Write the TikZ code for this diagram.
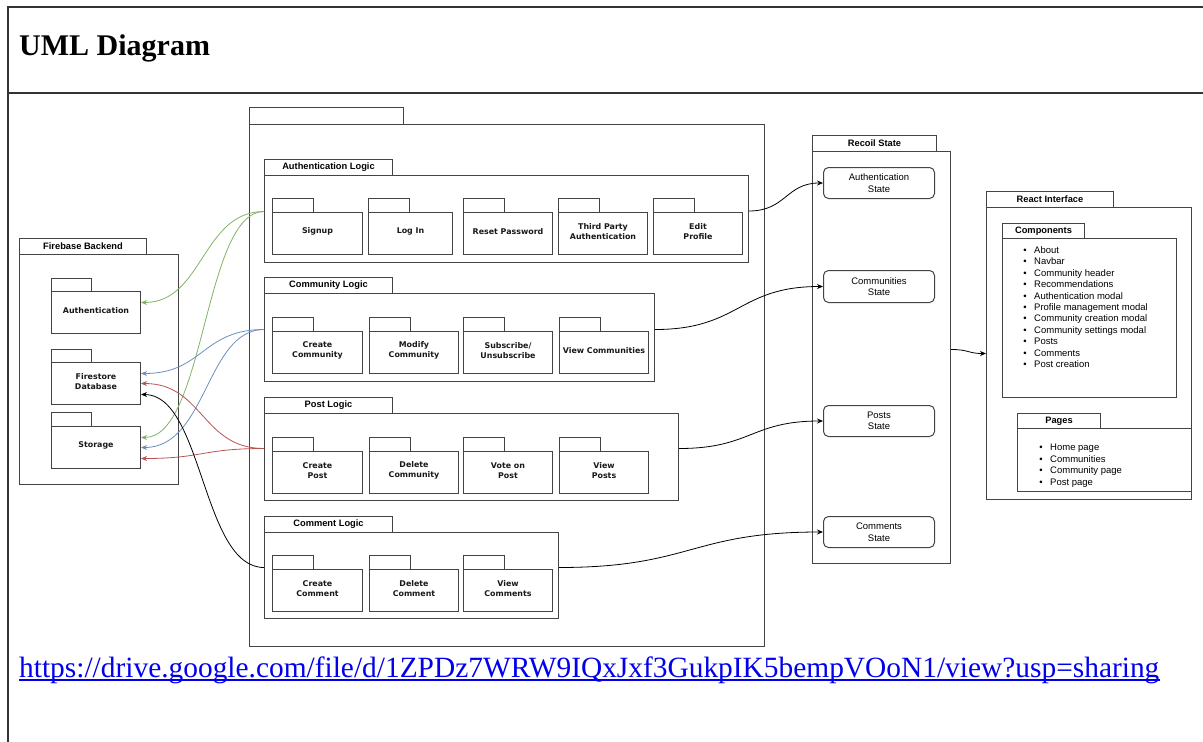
\documentclass[tikz,border=0pt]{standalone}
\usepackage{fontspec}
\setmainfont{Liberation Serif}
\newfontfamily\arialf{Liberation Sans}
\newfontfamily\verdf{DejaVu Sans}
\usetikzlibrary{arrows.meta}
\definecolor{edgegreen}{HTML}{82B366}
\definecolor{edgeblue}{HTML}{6C8EBF}
\definecolor{edgered}{HTML}{B85450}
\definecolor{linkblue}{HTML}{0000EE}
\definecolor{pkgline}{HTML}{444444}

% #1 name, #2 x, #3 tab top, #4 tab w, #5 tab h, #6 body w, #7 body h, #8 tab text
\newcommand{\umlgroup}[8]{%
  \node[tabbox, minimum width=#4, minimum height=#5, anchor=north west] (#1-tab) at (#2,#3) {#8};
  \node[bodybox, minimum width=#6, minimum height=#7, anchor=north west] (#1) at (#2,#3+#5) {};
}
% sub package: #1 name, #2 x, #3 tab top, #4 body w, #5 label
\newcommand{\umlsub}[5]{%
  \node[tabbox, minimum width=41, minimum height=14, anchor=north west] (#1-tab) at (#2,#3) {};
  \node[bodybox, minimum width=#4, minimum height=42, anchor=north west] (#1) at (#2,#3+14) {};
  \node[pkglabel] (#1-label) at ([yshift=2pt]#1.center) {#5};
}

\tikzset{
  tabbox/.style={draw=pkgline, line width=1pt, fill=white, inner sep=0pt,
    font=\arialf\bfseries\fontsize{9.3}{11}\selectfont},
  bodybox/.style={draw=pkgline, line width=1pt, fill=white, inner sep=0pt},
  pkglabel/.style={inner sep=0pt, align=center, text=black!90,
    font=\verdf\bfseries\fontsize{7.9}{10}\selectfont},
  statebox/.style={draw=pkgline, line width=1pt, fill=white, rounded corners=5pt,
    inner sep=0pt, minimum width=111, minimum height=31, align=center,
    font=\arialf\fontsize{9.5}{11.5}\selectfont, anchor=north west},
  listitem/.style={inner sep=0pt, anchor=base west,
    font=\arialf\fontsize{9.5}{11.4}\selectfont},
  conn/.style={line width=0.8pt, color=#1, -{Stealth[length=6pt,width=5pt]}},
  conn/.default=black,
  frameline/.style={line width=1.2pt, black!80}
}

\begin{document}
\begin{tikzpicture}[x=1pt,y=-1pt]
\useasboundingbox (0,0) rectangle (1203,742);

% page frame
\draw[frameline] (8,742) -- (8,7) -- (1203,7);
\draw[frameline] (8,93) -- (1203,93);
\node[anchor=base west, inner sep=0pt, font=\bfseries\fontsize{30}{36}\selectfont] (title) at (19,55) {UML Diagram};
\node[anchor=base west, inner sep=0pt, text=linkblue, font=\fontsize{29.4}{35}\selectfont] (link) at (19,677) {https://drive.google.com/file/d/1ZPDz7WRW9IQxJxf3GukpIK5bempVOoN1/view?usp=sharing};
\draw[linkblue, line width=1.4pt] ([yshift=-3pt]link.base west) -- ([yshift=-3pt]link.base east);

% main logic package
\umlgroup{main}{249}{107}{154}{17}{515}{522}{}

% Authentication logic
\umlgroup{authlogic}{264}{159}{128}{16}{484}{87}{Authentication Logic}
\umlsub{signup}{272}{198}{90}{Signup}
\umlsub{login}{368}{198}{84}{Log In}
\umlsub{reset}{463}{198}{89}{Reset Password}
\umlsub{third}{558}{198}{89}{Third Party\\Authentication}
\umlsub{edit}{653}{198}{89}{Edit\\Profile}

% Community logic
\umlgroup{commlogic}{264}{277}{128}{16}{390}{88}{Community Logic}
\umlsub{ccreate}{272}{317}{90}{Create\\Community}
\umlsub{cmodify}{369}{317}{89}{Modify\\Community}
\umlsub{csub}{463}{317}{89}{Subscribe/\\Unsubscribe}
\umlsub{cview}{559}{317}{89}{View Communities}

% Post logic
\umlgroup{postlogic}{264}{397}{128}{16}{414}{87}{Post Logic}
\umlsub{pcreate}{272}{437}{90}{Create\\Post}
\umlsub{pdelete}{369}{437}{89}{Delete\\Community}
\umlsub{pvote}{463}{437}{89}{Vote on\\Post}
\umlsub{pview}{559}{437}{89}{View\\Posts}

% Comment logic
\umlgroup{commentlogic}{264}{516}{128}{16}{294}{86}{Comment Logic}
\umlsub{mcreate}{272}{555}{90}{Create\\Comment}
\umlsub{mdelete}{369}{555}{89}{Delete\\Comment}
\umlsub{mview}{463}{555}{89}{View\\Comments}

% Firebase backend
\umlgroup{firebase}{19}{238}{127}{16}{159}{230}{Firebase Backend}
\node[tabbox, minimum width=40, minimum height=13, anchor=north west] (fbauth-tab) at (51,278) {};
\node[bodybox, minimum width=89, minimum height=42, anchor=north west] (fbauth) at (51,291) {};
\node[pkglabel] (fbauth-label) at ([yshift=2pt]fbauth.center) {Authentication};
\node[tabbox, minimum width=40, minimum height=13, anchor=north west] (fbstore-tab) at (51,349) {};
\node[bodybox, minimum width=89, minimum height=42, anchor=north west] (fbstore) at (51,362) {};
\node[pkglabel] (fbstore-label) at ([yshift=2pt]fbstore.center) {Firestore\\Database};
\node[tabbox, minimum width=40, minimum height=14, anchor=north west] (fbstorage-tab) at (51,412) {};
\node[bodybox, minimum width=89, minimum height=42, anchor=north west] (fbstorage) at (51,426) {};
\node[pkglabel] (fbstorage-label) at ([yshift=2pt]fbstorage.center) {Storage};

% Recoil state
\umlgroup{recoil}{812}{135}{124}{16}{138}{412}{Recoil State}
\node[statebox] (stauth) at (823,167) {Authentication\\State};
\node[statebox, minimum height=32] (stcomm) at (823,270) {Communities\\State};
\node[statebox] (stposts) at (823,405) {Posts\\State};
\node[statebox] (stcomments) at (823,516) {Comments\\State};

% React interface
\umlgroup{react}{986}{191}{127}{16}{205}{292}{React Interface}
\umlgroup{comps}{1002}{223}{82}{15}{174}{159}{Components}
\umlgroup{pages}{1017}{413}{83}{15}{174}{63}{Pages}
\foreach \t [count=\i] in {About,Navbar,Community header,Recommendations,Authentication modal,Profile management modal,Community creation modal,Community settings modal,Posts,Comments,Post creation}
  \node[listitem] (comp\i) at (1034,{253.5+(\i-1)*11.4}) {\llap{\textbullet\hspace{7.5pt}}\t};
\foreach \t [count=\i] in {Home page,Communities,Community page,Post page}
  \node[listitem] (page\i) at (1050,{450.5+(\i-1)*11.5}) {\llap{\textbullet\hspace{7.5pt}}\t};

% connectors to Firebase
\draw[conn=edgegreen] ([yshift=7.5pt]authlogic.west) .. controls +(-62,0) and +(62,0) .. ([yshift=10pt]fbauth.east);
\draw[conn=edgegreen] ([yshift=7.5pt]authlogic.west) .. controls +(-60,0) and +(64,0) .. ([yshift=10pt]fbstorage.east);
\draw[conn=edgeblue] ([yshift=8pt]commlogic.west) .. controls +(-62,0) and +(62,0) .. ([yshift=10pt]fbstore.east);
\draw[conn=edgeblue] ([yshift=8pt]commlogic.west) .. controls +(-58,0) and +(66,0) .. (fbstorage.east);
\draw[conn=edgered] ([yshift=8.5pt]postlogic.west) .. controls +(-62,0) and +(62,0) .. (fbstore.east);
\draw[conn=edgered] ([yshift=8.5pt]postlogic.west) .. controls +(-62,0) and +(62,0) .. ([yshift=-11pt]fbstorage.east);
\draw[conn] ([yshift=8pt]commentlogic.west) .. controls +(-62,0) and +(62,0) .. ([yshift=-11pt]fbstore.east);

% connectors to Recoil state
\draw[conn] ([yshift=8pt]authlogic.east) .. controls +(37,0) and +(-37,0) .. (stauth.west);
\draw[conn] ([yshift=8pt]commlogic.east) .. controls +(85,0) and +(-85,0) .. (stcomm.west);
\draw[conn] ([yshift=8.5pt]postlogic.east) .. controls +(72,0) and +(-72,0) .. (stposts.west);
\draw[conn] ([yshift=8pt]commentlogic.east) .. controls +(132,0) and +(-132,0) .. (stcomments.west);

% Recoil -> React
\draw[conn] ([yshift=8pt]recoil.east) .. controls +(18,0) and +(-18,0) .. (react.west);
\end{tikzpicture}
\end{document}
